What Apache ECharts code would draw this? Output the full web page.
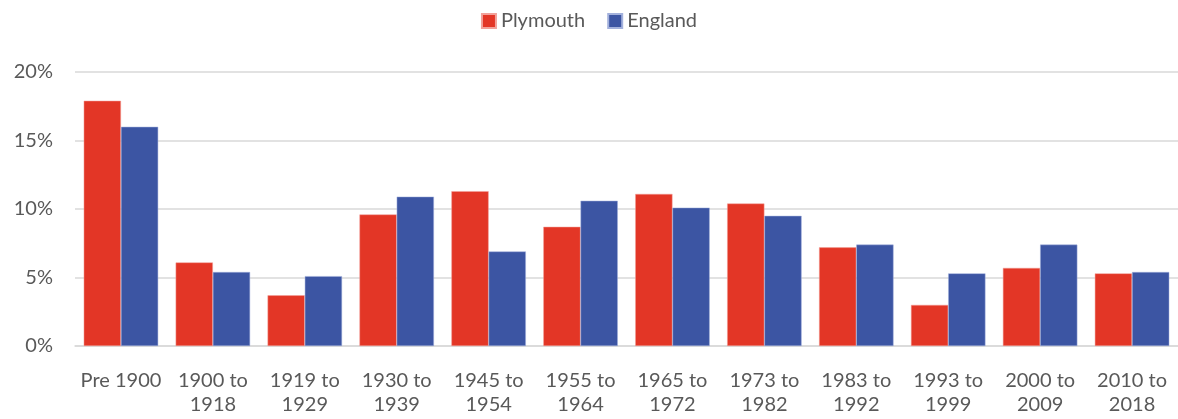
<!DOCTYPE html>
<html>
<head>
<meta charset="utf-8">
<script src="https://cdn.jsdelivr.net/npm/echarts@6/dist/echarts.min.js"></script>
<style>
  html, body { margin: 0; padding: 0; background: #fff; }
  #chart { width: 1178px; height: 419px; }
</style>
</head>
<body>
<div id="chart"></div>
<script>
const categories = ['Pre 1900', '1900 to\n1918', '1919 to\n1929', '1930 to\n1939', '1945 to\n1954', '1955 to\n1964',
  '1965 to\n1972', '1973 to\n1982', '1983 to\n1992', '1993 to\n1999', '2000 to\n2009', '2010 to\n2018']
const plymouth = [17.9, 6.1, 3.7, 9.6, 11.3, 8.7, 11.1, 10.4, 7.2, 3.0, 5.7, 5.3]
const england = [16.0, 5.4, 5.1, 10.9, 6.9, 10.6, 10.1, 9.5, 7.4, 5.3, 7.4, 5.4]
const yTicks = [0, 5, 10, 15, 20]

const textColor = '#595959'
const font = 'Lato, "Open Sans", sans-serif'

const option = {
  animation: false,
  textStyle: { fontFamily: font },
  legend: {
    top: 6,
    left: 'center',
    icon: 'rect',
    itemWidth: 14,
    itemHeight: 14,
    itemGap: 22,
    textStyle: { color: textColor, fontSize: 20, fontFamily: font },
    data: ['Plymouth', 'England']
  },
  grid: { left: 75, right: 0, top: 72, bottom: 73 },
  xAxis: {
    type: 'category',
    data: categories,
    axisTick: { show: false },
    axisLine: { lineStyle: { color: '#d9d9d9', width: 1.5 } },
    axisLabel: { color: textColor, fontSize: 20, lineHeight: 24, margin: 23, interval: 0, fontFamily: font }
  },
  yAxis: {
    type: 'value',
    min: yTicks[0],
    max: yTicks[yTicks.length - 1],
    interval: 5,
    axisLabel: { color: textColor, fontSize: 20, margin: 22, formatter: v => v + '%', fontFamily: font },
    splitLine: { lineStyle: { color: '#d9d9d9', width: 1.5 } },
    axisLine: { show: false },
    axisTick: { show: false }
  },
  series: [
    {
      name: 'Plymouth',
      type: 'bar',
      data: plymouth,
      barGap: '0%',
      barCategoryGap: '19%',
      itemStyle: { color: '#e33626', borderColor: '#f2a19a', borderWidth: 0.5 }
    },
    {
      name: 'England',
      type: 'bar',
      data: england,
      itemStyle: { color: '#3c55a3', borderColor: '#a3b1dc', borderWidth: 0.5 }
    }
  ]
}

const myChart = echarts.init(document.getElementById('chart'))
myChart.setOption(option)
</script>
</body>
</html>
